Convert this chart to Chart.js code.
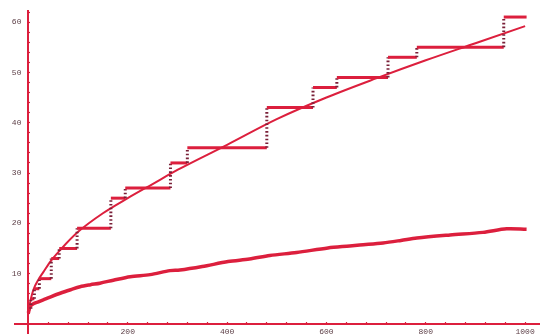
<!DOCTYPE html>
<html>
<head>
<meta charset="utf-8">
<script src="https://cdn.jsdelivr.net/npm/chart.js@4/dist/chart.umd.min.js"></script>
<style>
  html, body { margin: 0; padding: 0; background: #ffffff; overflow: hidden; }
  #plot { display: block; }
</style>
</head>
<body>
<canvas id="plot" width="540" height="334"></canvas>
<script>
// Staircase: each level holds from its start until the next start
const stepStarts = [0, 5, 12, 22, 46, 62, 98, 166, 195, 286, 320, 480, 573, 621, 724, 782, 957];
const stepLevels = [3, 5, 7, 9, 13, 15, 19, 25, 27, 32, 35, 43, 47, 49, 53, 55, 61];
const stepEnd = 1003;

// Smooth upper curve
const upperX = [0, 2, 5, 10, 20, 30, 45, 65, 100, 150, 200, 250, 300, 400, 500, 600, 700, 800, 900, 1000];
const upperY = [2, 3.5, 5, 6.8, 8.8, 10.3, 12.5, 14.8, 18.3, 22, 25, 27.8, 30.6, 35.6, 40.7, 45, 48.8, 52.4, 55.8, 59.2];

// Lower, slowly growing curve
const lowerX = [0, 3, 10, 20, 30, 45, 64, 85, 104, 125, 144, 171, 205, 245, 285, 305, 350, 402, 445, 486, 540, 603, 647, 667, 714, 750, 782, 849, 915, 963, 1003];
const lowerY = [2.2, 3.4, 4.0, 4.4, 4.8, 5.4, 6.1, 6.8, 7.4, 7.8, 8.1, 8.7, 9.4, 9.8, 10.6, 10.7, 11.4, 12.4, 12.9, 13.6, 14.2, 15.1, 15.5, 15.7, 16.1, 16.6, 17.1, 17.7, 18.2, 18.9, 18.8];

// Axis ticks
const xMajorTicks = [200, 400, 600, 800, 1000];
const yMajorTicks = [10, 20, 30, 40, 50, 60];

const RED = '#dc1f3d';
const DARK = '#7a2038';
const LABEL = '#5e4048';
const TICK_FONT = { family: 'Liberation Mono', size: 8 };

function stairPoints() {
  const pts = [];
  for (let i = 0; i < stepStarts.length; i++) {
    const end = i + 1 < stepStarts.length ? stepStarts[i + 1] : stepEnd;
    pts.push({ x: stepStarts[i], y: stepLevels[i] });
    pts.push({ x: end, y: stepLevels[i] });
  }
  return pts;
}
const zip = (xs, ys) => xs.map((x, i) => ({ x, y: ys[i] }));
const isRiser = ctx => ctx.p0.parsed.x === ctx.p1.parsed.x;

// Axes sit at the origin and must not take space from the plot area
const flatX = s => { s.height = 0; s.paddingLeft = 0; s.paddingRight = 0; s.paddingTop = 0; s.paddingBottom = 0; };
const flatY = s => { s.width = 0; s.paddingLeft = 0; s.paddingRight = 0; s.paddingTop = 0; s.paddingBottom = 0; };

new Chart(document.getElementById('plot'), {
  type: 'scatter',
  data: {
    datasets: [
      {
        data: stairPoints(),
        showLine: true,
        borderColor: RED,
        borderWidth: 3,
        pointRadius: 0,
        segment: {
          borderColor: ctx => isRiser(ctx) ? DARK : undefined,
          borderDash: ctx => isRiser(ctx) ? [1.6, 2.2] : undefined
        }
      },
      {
        data: zip(upperX, upperY),
        showLine: true,
        borderColor: RED,
        borderWidth: 2,
        pointRadius: 0,
        cubicInterpolationMode: 'monotone'
      },
      {
        data: zip(lowerX, lowerY),
        showLine: true,
        borderColor: RED,
        borderWidth: 3.5,
        pointRadius: 0,
        tension: 0.3
      }
    ]
  },
  options: {
    responsive: false,
    animation: false,
    devicePixelRatio: 1,
    layout: { padding: { left: 15, top: 11, right: 0, bottom: 0 }, autoPadding: false },
    plugins: { legend: { display: false }, tooltip: { enabled: false } },
    scales: {
      x: {
        type: 'linear',
        min: -27,
        max: 1030,
        position: { y: 0 },
        afterFit: flatX,
        afterBuildTicks: s => { s.ticks = s.ticks.filter(t => t.value > 0 && t.value % 40 === 0 && t.value <= 1000); },
        border: { color: RED, width: 2 },
        grid: { drawOnChartArea: false, drawTicks: true, tickLength: -3, color: RED, tickWidth: 1.2 },
        ticks: {
          stepSize: 40,
          includeBounds: false,
          autoSkip: false,
          maxRotation: 0,
          padding: 6,
          color: LABEL,
          font: TICK_FONT,
          callback: v => xMajorTicks.includes(v) ? String(v) : ''
        }
      },
      y: {
        type: 'linear',
        min: -2,
        max: 62.2,
        position: { x: 0 },
        afterFit: flatY,
        afterBuildTicks: s => { s.ticks = s.ticks.filter(t => t.value > 0 && t.value % 2 === 0); },
        border: { color: RED, width: 2 },
        grid: { drawOnChartArea: false, drawTicks: true, tickLength: -3, color: RED, tickWidth: 1.2 },
        ticks: { stepSize: 2, includeBounds: false, autoSkip: false, display: false }
      },
      // Label column for the vertical axis, set a little left of the axis line
      yLabels: {
        type: 'linear',
        axis: 'y',
        min: -2,
        max: 62.2,
        position: { x: -14 },
        afterFit: flatY,
        afterBuildTicks: s => { s.ticks = s.ticks.filter(t => yMajorTicks.includes(t.value)); },
        border: { display: false },
        grid: { display: false },
        ticks: {
          stepSize: 10,
          includeBounds: false,
          autoSkip: false,
          color: LABEL,
          font: TICK_FONT,
          callback: v => String(v)
        }
      }
    }
  }
});
</script>
</body>
</html>
